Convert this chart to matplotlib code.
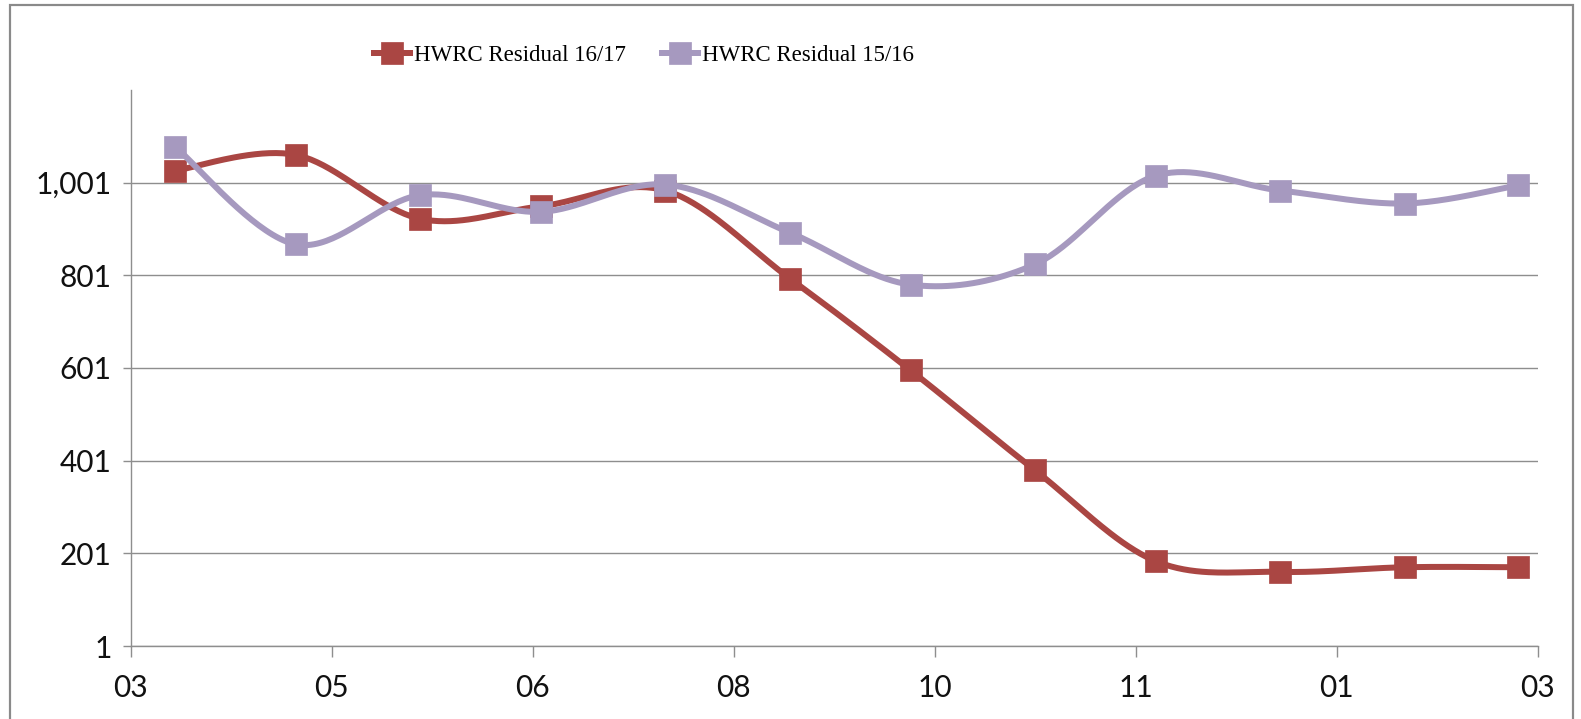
import numpy as np
import matplotlib
matplotlib.use('Agg')
import matplotlib.pyplot as plt
import matplotlib.dates as mdates
from matplotlib.patches import Rectangle
from matplotlib.lines import Line2D
from matplotlib.ticker import FuncFormatter

# ---------------- data ----------------
months = ['2016-04-01', '2016-05-01', '2016-06-01', '2016-07-01', '2016-08-01', '2016-09-01',
          '2016-10-01', '2016-11-01', '2016-12-01', '2017-01-01', '2017-02-01', '2017-03-01']
residual_1617 = [1027, 1061, 923, 950, 984, 794, 596, 380, 184, 161, 171, 171]
residual_1516 = [1079, 868, 974, 938, 997, 893, 781, 825, 1016, 984, 956, 995]
series_names = ['HWRC Residual 16/17', 'HWRC Residual 15/16']
x_tick_dates = ['2016-03-21', '2016-05-10', '2016-06-29', '2016-08-18',
                '2016-10-07', '2016-11-26', '2017-01-15', '2017-03-06']
x_tick_labels = ['03', '05', '06', '08', '10', '11', '01', '03']
y_ticks = [1, 201, 401, 601, 801, 1001]
y_limits = (1, 1201)

# ---------------- style ----------------
RED = '#AA4643'
PURPLE = '#A699BF'
GRID = '#8E8E8E'
TICK_FONT = 'Lato'
LEGEND_FONT = 'Liberation Serif'

W, H, DPI = 1581, 719, 100
fig = plt.figure(figsize=(W / DPI, H / DPI), dpi=DPI)
fig.patch.set_facecolor('white')

px = 72.0 / DPI  # points per pixel
ax = fig.add_axes([130.7 / W, 1 - 646 / H, (1537.7 - 130.7) / W, (646 - 90) / H])

xd = mdates.date2num(np.array(months, dtype='datetime64[D]'))


def excel_smooth(x, y, n=40):
    x = np.asarray(x, float)
    y = np.asarray(y, float)
    N = len(x)
    xs, ys = [], []
    for i in range(N - 1):
        p0 = i - 1 if i > 0 else i
        p3 = i + 2 if i + 2 < N else i + 1
        c1x = x[i] + (x[i + 1] - x[p0]) / 6.0
        c1y = y[i] + (y[i + 1] - y[p0]) / 6.0
        c2x = x[i + 1] - (x[p3] - x[i]) / 6.0
        c2y = y[i + 1] - (y[p3] - y[i]) / 6.0
        t = np.linspace(0, 1, n, endpoint=(i == N - 2))
        a, b, c, d = (1 - t) ** 3, 3 * (1 - t) ** 2 * t, 3 * (1 - t) * t ** 2, t ** 3
        xs.append(a * x[i] + b * c1x + c * c2x + d * x[i + 1])
        ys.append(a * y[i] + b * c1y + c * c2y + d * y[i + 1])
    return np.concatenate(xs), np.concatenate(ys)


lw = 6.0 * px
ms = 23.0 * px
handles = []
z = 3
for vals, color, name in [(residual_1617, RED, series_names[0]),
                          (residual_1516, PURPLE, series_names[1])]:
    sx, sy = excel_smooth(xd, vals)
    ax.plot(sx, sy, color=color, lw=lw, solid_capstyle='round', zorder=z)
    ax.plot(xd, vals, linestyle='none', marker='s', ms=ms, color=color,
            markeredgecolor=color, markeredgewidth=0.5, zorder=z + 0.1)
    handles.append(Line2D([], [], color=color, lw=lw, marker='s', ms=ms * 0.95,
                          markeredgewidth=0.5, markeredgecolor=color))
    z += 1

# axes
ax.set_xlim(mdates.date2num(np.datetime64(x_tick_dates[0])),
            mdates.date2num(np.datetime64(x_tick_dates[-1])))
ax.set_ylim(*y_limits)
ax.set_xticks(mdates.date2num(np.array(x_tick_dates, dtype='datetime64[D]')))
ax.set_xticklabels(x_tick_labels)
ax.set_yticks(y_ticks)
ax.yaxis.set_major_formatter(FuncFormatter(lambda v, p: f'{int(round(v)):,}'))

for s in ['top', 'right']:
    ax.spines[s].set_visible(False)
for s in ['left', 'bottom']:
    ax.spines[s].set_color(GRID)
    ax.spines[s].set_linewidth(1.4 * px)

ax.grid(axis='y', color=GRID, lw=1.4 * px, zorder=1)
ax.set_axisbelow(True)
ax.tick_params(axis='y', direction='out', length=8 * px, width=1.4 * px, color=GRID,
               pad=11 * px, labelsize=21.5, labelcolor='#111111')
ax.tick_params(axis='x', direction='out', length=11 * px, width=1.4 * px, color=GRID,
               pad=17 * px, labelsize=21.5, labelcolor='#111111')
for lab in ax.get_xticklabels() + ax.get_yticklabels():
    lab.set_fontfamily(TICK_FONT)

# legend
fsz = 16.5
fpx = fsz / px
leg = fig.legend(handles, series_names, loc='center', ncol=2,
                 bbox_to_anchor=(644 / W, 1 - 55 / H), frameon=False,
                 prop={'family': LEGEND_FONT, 'size': fsz},
                 handlelength=36 / fpx, handletextpad=4 / fpx, columnspacing=36 / fpx,
                 borderpad=0, borderaxespad=0)

# outer frame
fig.patches.append(Rectangle((10 / W, -0.05), (1573 - 10) / W, 1.05 - 5 / H,
                             transform=fig.transFigure, fill=False,
                             edgecolor='#8A8A8A', lw=2.2 * px, zorder=0))

fig.savefig('out.png', dpi=DPI, facecolor='white')
